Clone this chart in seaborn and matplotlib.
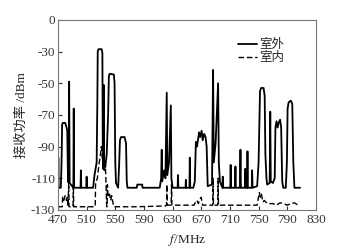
import pandas as pd
import seaborn as sns
import matplotlib.pyplot as plt

# outdoor (solid) trace
out_f = [470, 470.5, 471, 474, 475, 475.8, 477, 480, 482, 483, 484, 485, 485.6, 486.3, 488,
         491.5, 492, 492.6, 501.5, 502, 502.5, 509.5, 510, 510.5, 519, 521, 524, 525, 525.5,
         526.5, 531, 532, 532.5, 533, 533.7, 534.4, 536, 538, 540, 541, 542, 548, 549, 550,
         551, 554, 555.5, 556.5, 558, 563, 565, 566, 567, 580, 580.7, 587.6, 588, 612, 614,
         614.8, 615.5, 618, 620, 621.8, 622.6, 625, 627.5, 628.3, 630, 637, 637.5, 638, 648,
         648.5, 649, 653.5, 654, 654.6, 659, 661, 662.5, 664, 667, 668.5, 670.5, 672, 674,
         676, 677.5, 679, 685, 686.5, 687.5, 690, 693.5, 694.5, 696, 699.5, 700, 700.5,
         710.5, 711, 711.6, 717, 717.7, 718.3, 724, 724.7, 725.3, 731, 731.6, 732.2, 734,
         734.5, 735, 740.5, 741, 741.6, 748, 750, 752, 753.5, 757, 758.5, 759.5, 761, 762,
         765.5, 766.3, 767, 770, 772.5, 773.5, 775, 776.5, 778, 780, 781.5, 783, 784.5, 788,
         789.5, 790.5, 792, 795, 797, 798.5, 800, 808]
out_p = [-116, -97, -116, -116, -100, -76, -75, -75, -78, -80, -112, -113, -49, -113, -114,
         -116, -66, -116, -116, -105, -116, -116, -109, -116, -116, -108, -100, -60, -30,
         -28.5, -28.5, -31, -90, -104, -51, -100, -103, -95, -70, -46, -44, -44.5, -50, -100,
         -113, -116, -100, -86, -84, -84, -88, -112, -116, -116, -114, -114, -116, -116, -110,
         -92, -112, -105, -110, -56, -108, -100, -64, -110, -116, -116, -108, -116, -116,
         -111, -116, -116, -97, -116, -116, -112, -87, -90, -81, -84, -80, -86, -82,
         -84, -90, -115, -114, -41.6, -100, -88, -50, -100, -112, -116, -109, -116,
         -116, -101.6, -116, -116, -102.6, -116, -116, -92, -116, -116, -104, -116, -116,
         -93, -116, -116, -105, -116, -115, -100, -55, -53, -53, -58, -95, -110, -114,
         -113, -68, -112, -113, -110, -78, -74, -78, -75, -73, -78, -112, -116, -116,
         -100, -66, -62, -61, -63, -100, -116, -116]

# indoor (dashed) trace
in_f = [470, 476, 476.5, 478, 480, 482, 483, 484, 485, 485.5, 491, 491.5, 492, 522, 522.5,
        525, 527, 529, 530.5, 532, 533, 534.5, 536, 537, 538, 538.5, 539, 540, 542, 543.5,
        545, 546.5, 548, 580, 620, 621.5, 622, 622.5, 628, 628.5, 629, 660, 662, 664, 666,
        668, 670, 671, 672, 686, 686.5, 687, 693, 693.5, 694, 748, 749, 751, 752.5, 754,
        756, 758, 762, 770, 775, 780, 785, 790, 795, 800, 805]
in_p = [-128, -128, -122, -124, -121, -124, -122, -128, -113, -128, -128, -114, -128, -128,
        -113, -110, -102, -96, -90, -98, -92, -105, -100, -112, -128, -128, -114, -122,
        -120, -124, -121, -125, -128, -128, -127.5, -127, -114, -127, -127, -114, -127,
        -127, -125, -124, -126, -123, -122, -125, -127, -127, -110, -127, -127, -110, -127,
        -127, -124, -119, -122, -120, -125, -124, -126, -126, -127, -125.5, -126, -127,
        -126, -125.5, -127]

x_ticks = [470, 510, 550, 590, 630, 670, 710, 750, 790, 830]
y_ticks = [-130, -110, -90, -70, -50, -30, -10]
y_labels = ['-130', '-110', '-90', '-70', '-50', '-30', '0']

sns.set_style('ticks')
plt.rcParams['font.family'] = ['Liberation Serif', 'Noto Sans CJK SC']
plt.rcParams['mathtext.fontset'] = 'stix'
plt.rcParams['axes.unicode_minus'] = False

fig = plt.figure(figsize=(3.43, 2.52), dpi=100)
ax = fig.add_axes([0.169, 0.167, 0.752, 0.754])

sns.lineplot(x=out_f, y=out_p, estimator=None, sort=False, color='black',
             linewidth=1.3, label='室外', ax=ax)
sns.lineplot(x=in_f, y=in_p, estimator=None, sort=False, color='black',
             linewidth=1.0, linestyle=(0, (4, 2)), label='室内', ax=ax)

ax.set_xlim(470, 830)
ax.set_ylim(-130, -10)
ax.set_xticks(x_ticks)
ax.set_yticks(y_ticks)
ax.set_yticklabels(y_labels)
ax.tick_params(direction='in', length=3, labelsize=9.5, colors='#333333')
ax.tick_params(axis='x', pad=3)
ax.tick_params(axis='y', pad=2)
for s in ax.spines.values():
    s.set_color('#777777')
    s.set_linewidth(0.8)

ax.set_xlabel('$f$/MHz', fontsize=9.5, labelpad=4)
ax.set_ylabel('接收功率 /dBm', fontsize=9.5, labelpad=2)

ax.legend(loc='upper left', bbox_to_anchor=(0.66, 0.95), frameon=False, fontsize=9,
          handlelength=1.5, handletextpad=0.2, labelspacing=0.05, borderpad=0.3)

fig.savefig('out.png', dpi=100)
